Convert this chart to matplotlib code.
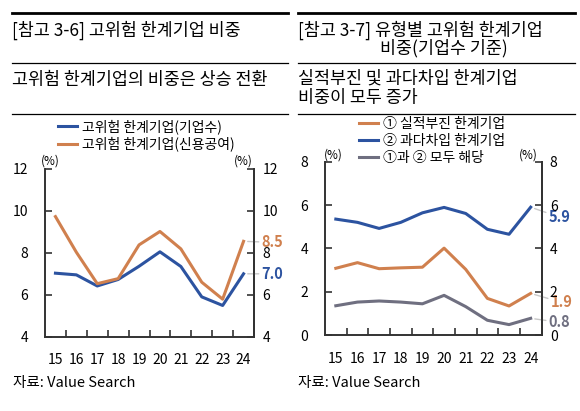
import matplotlib
matplotlib.use("Agg")
import matplotlib.pyplot as plt
from matplotlib.lines import Line2D

plt.rcParams["font.family"] = ["Noto Sans CJK KR", "DejaVu Sans"]

years = ["15", "16", "17", "18", "19", "20", "21", "22", "23", "24"]

# [참고 3-6]
left_count = [7.03, 6.95, 6.42, 6.73, 7.36, 8.05, 7.35, 5.90, 5.49, 7.00]
left_credit = [9.73, 8.03, 6.53, 6.77, 8.38, 9.02, 8.19, 6.60, 5.79, 8.55]
left_names = ["고위험 한계기업(기업수)", "고위험 한계기업(신용공여)"]

# [참고 3-7]
right_perf = [3.08, 3.34, 3.06, 3.10, 3.13, 4.01, 3.03, 1.69, 1.34, 1.92]
right_debt = [5.35, 5.20, 4.92, 5.20, 5.64, 5.89, 5.61, 4.88, 4.65, 5.90]
right_both = [1.35, 1.52, 1.57, 1.52, 1.44, 1.83, 1.31, 0.68, 0.48, 0.77]
right_names = ["① 실적부진 한계기업", "② 과다차입 한계기업", "①과 ② 모두 해당"]

BLUE = "#2c53a0"
ORANGE = "#d0804e"
GRAY = "#6f6f80"
SPINE = "#333333"
LEADER = "#c8c8c8"

W, H = 580, 411
fig = plt.figure(figsize=(W / 100, H / 100), dpi=100)


def fx(px):
    return px / W


def fy(py):
    return 1 - py / H


def hline(x0, x1, y, lw):
    fig.add_artist(Line2D([fx(x0), fx(x1)], [fy(y), fy(y)], color="black", lw=lw,
                          transform=fig.transFigure))


def style_axes(ax, ymin, ymax, step):
    xs = list(range(len(years)))
    ax.set_xlim(-0.5, len(years) - 0.5)
    ax.set_ylim(ymin, ymax)
    ax.set_xticks(xs)
    ax.set_xticklabels(years, fontsize=10)
    ax.set_xticks([i + 0.5 for i in xs[:-1]], minor=True)
    ax.tick_params(axis="x", which="major", length=0, pad=12)
    ax.tick_params(axis="x", which="minor", direction="in", length=5, color=SPINE, width=1.2)
    ticks = list(range(ymin, ymax + 1, step))
    ax.set_yticks(ticks)
    ax.tick_params(axis="y", direction="in", length=5, color=SPINE, width=1.2,
                   labelsize=10, pad=12)
    ax.spines["top"].set_visible(False)
    for s in ("left", "right", "bottom"):
        ax.spines[s].set_color(SPINE)
        ax.spines[s].set_linewidth(1.4)
    twin = ax.twinx()
    twin.set_ylim(ymin, ymax)
    twin.set_yticks(ticks)
    twin.tick_params(axis="y", direction="in", length=5, color=SPINE, width=1.2,
                     labelsize=10, pad=6)
    twin.spines["top"].set_visible(False)
    twin.spines["left"].set_visible(False)
    twin.spines["bottom"].set_visible(False)
    twin.spines["right"].set_color(SPINE)
    twin.spines["right"].set_linewidth(1.4)
    return xs


def end_label(ax, x, y, text, color, dx, dy):
    ax.annotate(text, xy=(x, y), xytext=(dx, dy), textcoords="offset pixels",
                ha="left", va="center", fontsize=10.5, fontweight="bold", color=color,
                arrowprops=dict(arrowstyle="-", color=LEADER, lw=1, shrinkA=0, shrinkB=3),
                annotation_clip=False, zorder=5)


# ---------- headers ----------
hline(12, 288, 13, 2.0)
hline(298, 575, 13, 2.0)
for y in (63, 114):
    hline(12, 288, y, 0.9)
    hline(298, 575, y, 0.9)

TS = 12.5
fig.text(fx(12), fy(30), "[참고 3-6] 고위험 한계기업 비중", fontsize=TS, va="center")
fig.text(fx(12), fy(80), "고위험 한계기업의 비중은 상승 전환", fontsize=TS, va="center")
fig.text(fx(298), fy(30), "[참고 3-7] 유형별 고위험 한계기업", fontsize=TS, va="center")
fig.text(fx(380), fy(48), "비중(기업수 기준)", fontsize=TS, va="center")
fig.text(fx(298), fy(79), "실적부진 및 과다차입 한계기업", fontsize=TS, va="center")
fig.text(fx(298), fy(98), "비중이 모두 증가", fontsize=TS, va="center")
fig.text(fx(13), fy(383), "자료: Value Search", fontsize=10.5, va="center")
fig.text(fx(298), fy(383), "자료: Value Search", fontsize=10.5, va="center")

# ---------- left chart ----------
ax1 = fig.add_axes([fx(45), fy(336.7), fx(254 - 45), (336.7 - 169) / H])
xs = style_axes(ax1, 4, 12, 2)
l1, = ax1.plot(xs, left_count, color=BLUE, lw=2.2, label=left_names[0])
l2, = ax1.plot(xs, left_credit, color=ORANGE, lw=2.2, label=left_names[1])
end_label(ax1, xs[-1], left_credit[-1], "8.5", ORANGE, 18, -1)
end_label(ax1, xs[-1], left_count[-1], "7.0", BLUE, 18, 0)
fig.text(fx(50), fy(161), "(%)", fontsize=8.5, ha="center", va="center")
fig.text(fx(243), fy(161), "(%)", fontsize=8.5, ha="center", va="center")
fig.legend(handles=[l1, l2], loc="upper left", bbox_to_anchor=(fx(58), fy(119)),
           frameon=False, fontsize=10, handlelength=1.35, handletextpad=0.4,
           labelspacing=0.2, borderaxespad=0, borderpad=0)

# ---------- right chart ----------
ax2 = fig.add_axes([fx(325), fy(335), fx(541.5 - 325), (335 - 161.7) / H])
xs = style_axes(ax2, 0, 8, 2)
r1, = ax2.plot(xs, right_perf, color=ORANGE, lw=2.2, label=right_names[0])
r2, = ax2.plot(xs, right_debt, color=BLUE, lw=2.2, label=right_names[1])
r3, = ax2.plot(xs, right_both, color=GRAY, lw=2.2, label=right_names[2])
end_label(ax2, xs[-1], right_debt[-1], "5.9", BLUE, 18, -10)
end_label(ax2, xs[-1], right_perf[-1], "1.9", ORANGE, 20, -9)
end_label(ax2, xs[-1], right_both[-1], "0.8", GRAY, 18, -4)
fig.text(fx(333), fy(155), "(%)", fontsize=8.5, ha="center", va="center")
fig.text(fx(528), fy(155), "(%)", fontsize=8.5, ha="center", va="center")
fig.legend(handles=[r1, r2, r3], loc="upper left", bbox_to_anchor=(fx(359), fy(117)),
           frameon=False, fontsize=10, handlelength=1.35, handletextpad=0.4,
           labelspacing=0.2, borderaxespad=0, borderpad=0)

fig.savefig("out.png", dpi=100)
